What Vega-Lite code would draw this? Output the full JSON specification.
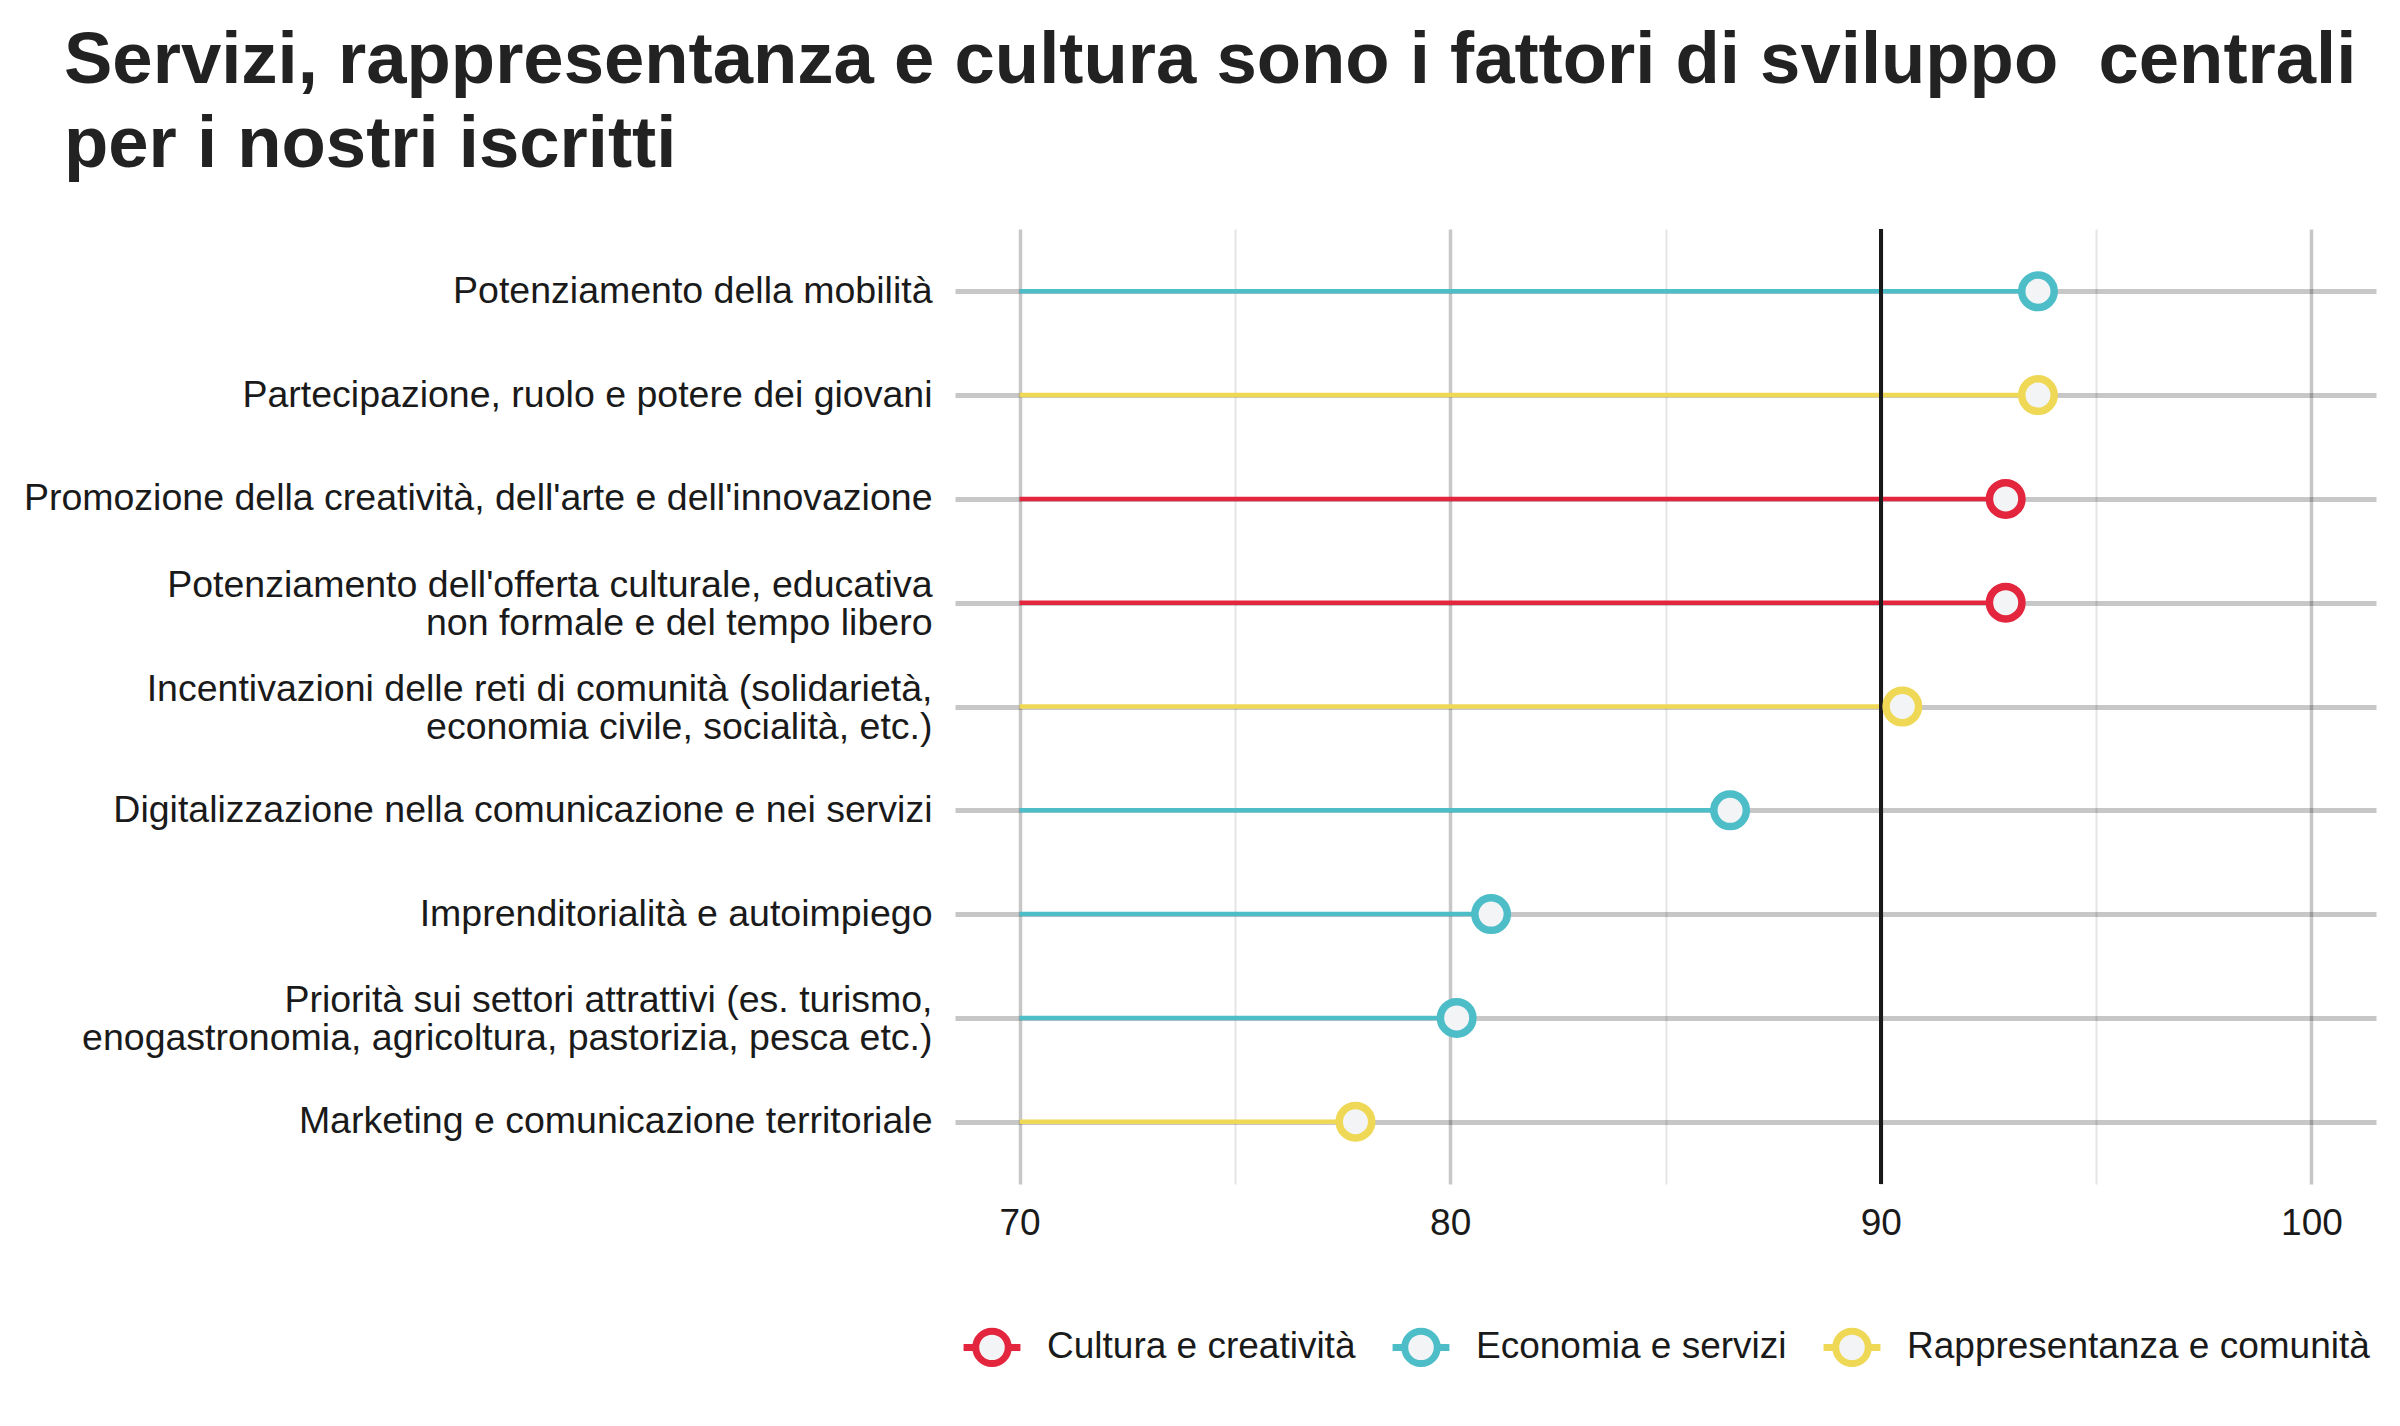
{
  "$schema": "https://vega.github.io/schema/vega-lite/v6.json",
  "autosize": {"type": "none"},
  "width": 1421,
  "height": 955,
  "padding": {"left": 955, "top": 229, "right": 24, "bottom": 242},
  "background": "white",
  "title": {
    "text": ["Servizi, rappresentanza e cultura sono i fattori di sviluppo\u00a0 centrali", "per i nostri iscritti"],
    "anchor": "start",
    "frame": "group",
    "dx": -891,
    "font": "Liberation Sans",
    "fontWeight": "bold",
    "fontSize": 72.5,
    "lineHeight": 84,
    "color": "#222222",
    "offset": 45
  },
  "config": {
    "view": {"stroke": null},
    "axis": {"labelFont": "Liberation Sans", "labelColor": "#1a1a1a", "domain": false, "ticks": false, "tickSize": 0, "title": null}
  },
  "data": {
    "values": [
      {"label": "Potenziamento della mobilità", "area": "Economia e servizi", "value": 93.65},
      {"label": "Partecipazione, ruolo e potere dei giovani", "area": "Rappresentanza e comunità", "value": 93.65},
      {"label": "Promozione della creatività, dell'arte e dell'innovazione", "area": "Cultura e creatività", "value": 92.9},
      {"label": "Potenziamento dell'offerta culturale, educativa\nnon formale e del tempo libero", "area": "Cultura e creatività", "value": 92.9},
      {"label": "Incentivazioni delle reti di comunità (solidarietà,\neconomia civile, socialità, etc.)", "area": "Rappresentanza e comunità", "value": 90.5},
      {"label": "Digitalizzazione nella comunicazione e nei servizi", "area": "Economia e servizi", "value": 86.5},
      {"label": "Imprenditorialità e autoimpiego", "area": "Economia e servizi", "value": 80.95},
      {"label": "Priorità sui settori attrattivi (es. turismo,\nenogastronomia, agricoltura, pastorizia, pesca etc.)", "area": "Economia e servizi", "value": 80.15},
      {"label": "Marketing e comunicazione territoriale", "area": "Rappresentanza e comunità", "value": 77.8}
    ]
  },
  "layer": [
    {
      "mark": {"type": "rule", "strokeWidth": 4.5},
      "encoding": {
        "y": {
          "field": "label",
          "type": "nominal",
          "sort": null,
          "scale": {"type": "point", "padding": 0.6},
          "axis": {
            "labelExpr": "split(datum.label, '\\n')",
            "labelFontSize": 37.5,
            "labelLineHeight": 38,
            "labelPadding": 23,
            "labelLimit": 1200,
            "labelOffset": {"condition": {"test": "indexof(datum.label, '\\n') >= 0", "value": -17}, "value": 0},
            "grid": true,
            "gridColor": "#000000",
            "gridOpacity": 0.22,
            "gridWidth": 5
          }
        },
        "x": {
          "field": "value",
          "type": "quantitative",
          "scale": {"domain": [68.5, 101.5], "nice": false, "zero": false},
          "axis": {
            "values": [70, 75, 80, 85, 90, 95, 100],
            "labelExpr": "datum.value % 10 === 0 ? datum.label : ''",
            "labelFontSize": 37,
            "labelPadding": 21,
            "grid": true,
            "gridColor": "#000000",
            "gridOpacity": {"condition": {"test": "datum.value % 10 === 0", "value": 0.22}, "value": 0.1},
            "gridWidth": {"condition": {"test": "datum.value % 10 === 0", "value": 3.5}, "value": 2}
          }
        },
        "x2": {"datum": 70},
        "color": {
          "field": "area",
          "type": "nominal",
          "scale": {
            "domain": ["Cultura e creatività", "Economia e servizi", "Rappresentanza e comunità"],
            "range": ["#E3263D", "#4DBDC8", "#EFD855"]
          },
          "legend": {
            "title": null,
            "orient": "none",
            "direction": "horizontal",
            "legendX": 17,
            "legendY": 1098,
            "padding": 0,
            "symbolType": "M1,0 A1,1 0 1,1 -1,0 A1,1 0 1,1 1,0 Z M-1.75,0 L-1,0 M1,0 L1.75,0",
            "symbolSize": 1056,
            "symbolStrokeWidth": 7,
            "symbolFillColor": "#F3F4F6",
            "symbolOpacity": 1,
            "labelFont": "Liberation Sans",
            "labelFontSize": 37,
            "labelColor": "#1a1a1a",
            "labelOffset": 35,
            "columnPadding": 22,
            "labelLimit": 800
          }
        }
      }
    },
    {
      "mark": {"type": "rule", "color": "#1a1a1a", "strokeWidth": 3.5},
      "encoding": {"x": {"datum": 90, "type": "quantitative"}}
    },
    {
      "mark": {"type": "point", "shape": "circle", "size": 1056, "strokeWidth": 7.5, "filled": false, "fill": "#F3F4F6", "fillOpacity": 1, "opacity": 1},
      "encoding": {
        "y": {"field": "label", "type": "nominal", "sort": null},
        "x": {"field": "value", "type": "quantitative"},
        "color": {"field": "area", "type": "nominal"}
      }
    }
  ]
}
